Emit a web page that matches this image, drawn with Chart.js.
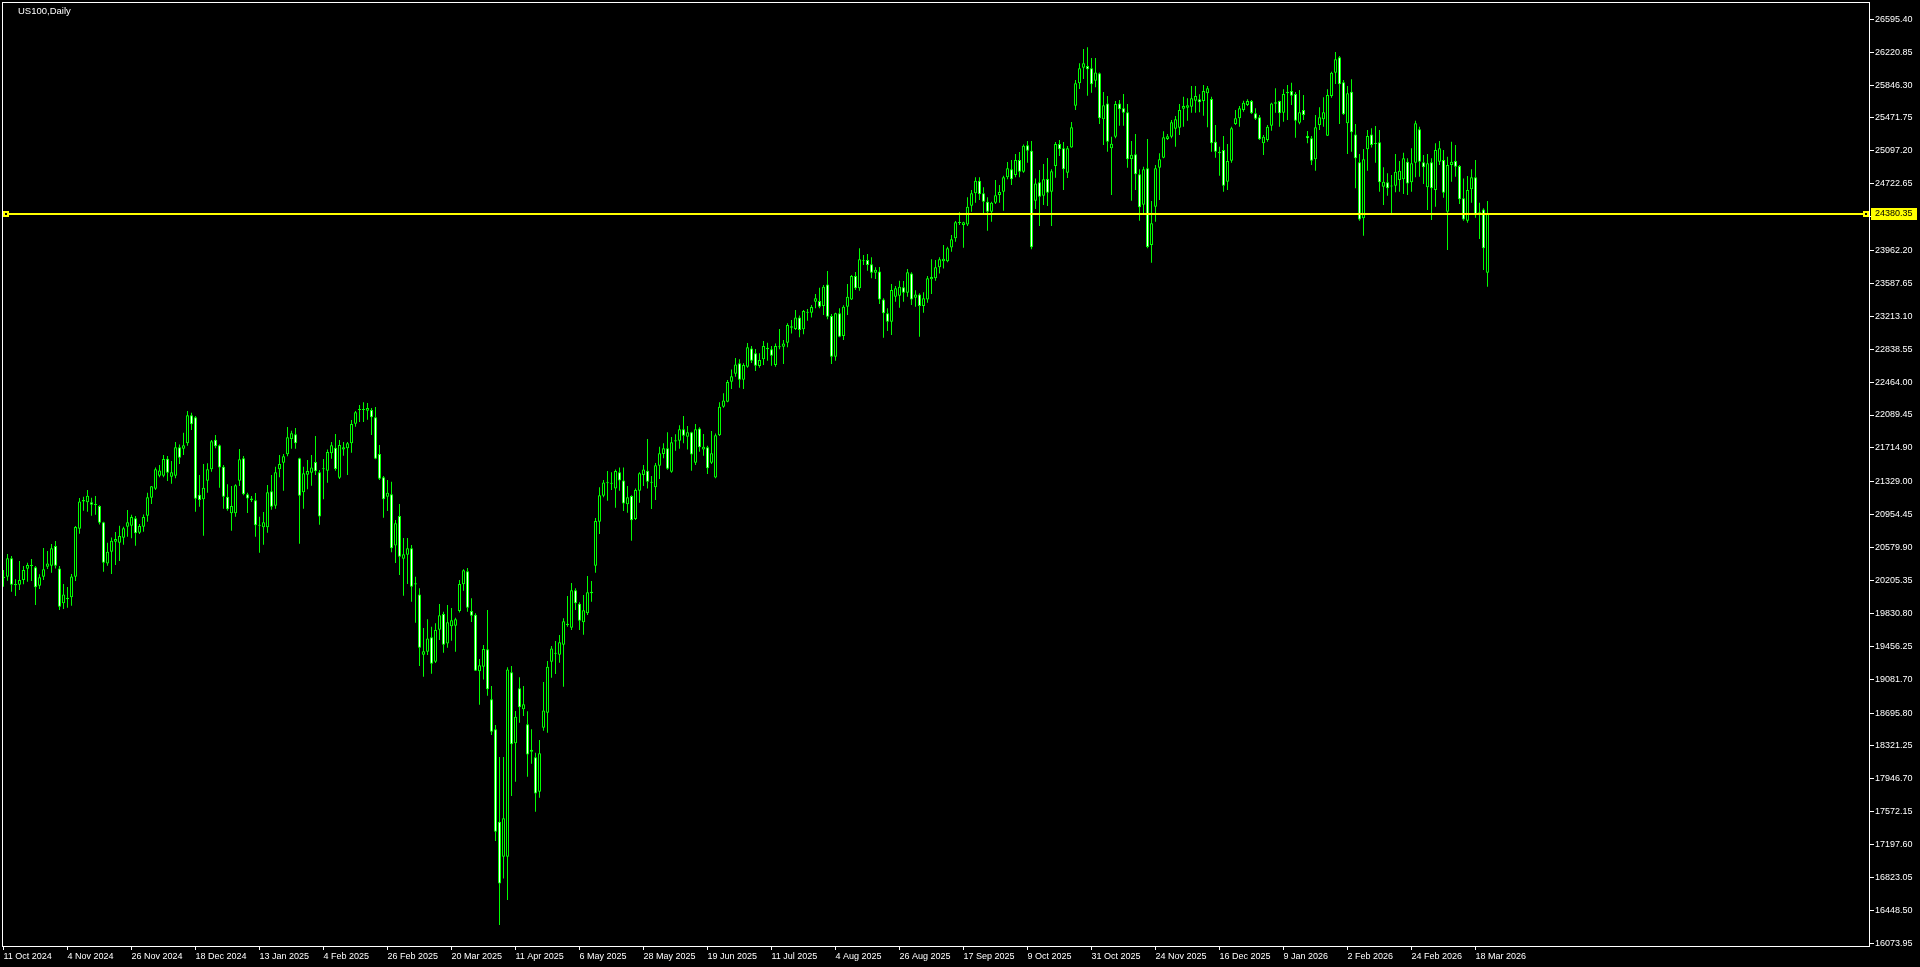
<!DOCTYPE html>
<html>
<head>
<meta charset="utf-8">
<script src="https://cdn.jsdelivr.net/npm/chart.js@4.4.1/dist/chart.umd.min.js"></script>
<style>
  html, body { margin: 0; padding: 0; background: #000; overflow: hidden; }
  #wrap { width: 1920px; height: 967px; }
</style>
</head>
<body>
<div id="wrap"><canvas id="chart" width="1920" height="967"></canvas></div>
<script>
const symbolTitle = 'US100,Daily';
const lastPrice = 24380.35;

// daily candles, oldest first (11 Oct 2024 .. 23 Mar 2026)
const opens = [
  20233,20248,20457,20150,20157,20210,20340,20381,20355,20146,20248,20362,20374,20598,20343,19945,20002,20013,20248,20795,
  21106,21095,21095,21072,21053,20867,20400,20533,20647,20636,20693,20818,20829,20913,20749,20818,20943,21148,21251,21399,
  21399,21592,21387,21399,21721,21706,21767,22086,22063,21182,21129,21342,21471,21809,21744,21501,21159,20970,20970,21342,
  21596,21186,21140,21118,20829,20810,20810,21220,21057,21471,21547,21642,21816,21869,21596,21209,21410,21433,21554,21437,
  21471,21456,21653,21717,21376,21698,21710,21767,21991,22146,22150,22139,22146,22063,21645,21380,21159,21186,20605,20939,
  20454,20499,20571,20160,20047,19360,19394,19558,19281,19645,19823,19489,19683,19691,19858,20161,20309,19858,19816,19171,
  19224,19421,18852,18510,17459,17060,17060,19159,18351,18977,18738,18567,18256,18191,17800,18529,18700,19281,19372,19360,
  19474,19698,19668,20093,19941,19729,19831,20059,20373,20875,21171,21311,21315,21254,21437,21345,21072,21167,20905,21228,
  21406,21455,21326,21266,21512,21645,21710,21444,21789,21797,21926,21843,21892,21546,21937,21698,21721,21546,21379,21858,
  22184,22241,22469,22560,22678,22492,22640,22848,22792,22647,22723,22837,22837,22659,22860,22867,22913,23084,23069,23201,
  23065,23255,23255,23380,23387,23330,23577,23217,22754,23247,22989,23323,23406,23672,23532,23851,23854,23805,23710,23725,
  23406,23247,23152,23437,23448,23543,23482,23702,23425,23463,23330,23406,23634,23646,23771,23839,23839,23998,24101,24280,
  24253,24260,24473,24614,24758,24614,24519,24405,24507,24595,24633,24796,24887,24822,24993,24860,25160,25099,24530,24739,
  24587,24777,24633,24925,25175,25126,24849,25137,25612,25866,26045,26064,26037,25897,25980,25456,25638,25126,25259,25638,
  25582,25536,25005,25058,24830,24485,24898,24025,24462,24906,25020,25232,25259,25350,25361,25578,25589,25600,25669,25684,
  25665,25752,25688,25202,25088,25107,24746,24986,25403,25468,25563,25619,25665,25525,25479,25183,25221,25384,25635,25665,
  25532,25752,25779,25745,25418,25563,25266,25240,25001,25392,25456,25270,25722,25988,26162,25878,25411,25771,25285,24967,
  24329,25115,25285,25183,25194,24689,24739,24693,24701,24765,24773,24974,24739,24963,25342,24967,24682,24967,24652,24974,
  24993,24405,24936,24982,24925,24557,24302,24659,24796,24386,24431,23710
];
const highs = [
  20324,20507,20484,20218,20427,20370,20408,20450,20370,20275,20575,20541,20620,20655,20370,20165,20131,20279,20825,21144,
  21159,21235,21148,21167,21061,20875,20636,20696,20757,20829,20818,21008,20955,20939,20848,20958,21205,21281,21493,21520,
  21634,21623,21566,21782,21755,21888,22135,22116,22078,21406,21531,21539,21805,21862,21755,21520,21300,21281,21300,21702,
  21623,21205,21167,21201,20932,20985,21292,21406,21501,21634,21645,21953,21911,21941,21604,21501,21577,21634,21850,21463,
  21588,21698,21782,21873,21805,21782,21782,22033,22135,22203,22234,22226,22169,22181,21748,21395,21349,21330,20894,21076,
  20689,20689,20609,20249,20116,19664,19763,19679,19717,19937,19850,19926,19892,19782,20211,20332,20347,20002,19831,19311,
  19470,19869,19003,18559,18195,18195,19216,19231,18719,19102,19003,18715,18510,18244,18389,19049,19288,19459,19516,19584,
  19774,20028,20176,20116,19956,20040,20256,20199,20916,21266,21349,21452,21437,21470,21493,21493,21281,21175,21254,21437,
  21520,21816,21395,21543,21729,21767,21892,21839,21869,21972,22078,21964,21900,21987,21949,21873,21740,21907,21880,22234,
  22336,22488,22609,22738,22723,22678,22909,22875,22841,22792,22932,22913,22875,22905,23069,22943,23133,23171,23285,23224,
  23285,23296,23342,23467,23539,23570,23729,23239,23255,23304,23338,23581,23684,23718,23987,23911,23923,23885,23771,23775,
  23418,23304,23581,23558,23619,23615,23752,23714,23509,23475,23486,23672,23862,23854,23885,24025,24006,24139,24298,24397,
  24291,24568,24652,24796,24796,24682,24568,24519,24765,24708,24815,24970,24993,25061,25084,25171,25209,25209,24784,24879,
  24948,25016,24887,25198,25221,25198,25152,25426,25904,26094,26257,26276,26155,26155,25991,25768,25722,25259,25665,25676,
  25745,25631,25209,25289,24887,24917,25232,24526,24936,25069,25320,25289,25449,25494,25631,25714,25695,25836,25836,25741,
  25847,25836,25714,25392,25145,25266,25175,25373,25563,25608,25669,25684,25676,25582,25506,25278,25392,25646,25809,25669,
  25798,25847,25874,25768,25790,25733,25323,25266,25506,25593,25707,25798,25999,26223,26178,25904,25836,25912,25403,25061,
  25118,25335,25354,25380,25335,24910,24841,24822,25061,24982,25077,25012,25126,25441,25373,25050,25061,25012,25183,25209,
  25107,25031,25202,25164,24936,24784,24811,24887,24993,24507,24443,24526
];
const lows = [
  20135,20203,20078,20028,20097,20161,20191,20199,19926,20108,20210,20336,20294,20343,19869,19880,19895,19918,20199,20738,
  21000,20989,20943,20955,20844,20305,20374,20279,20381,20427,20613,20704,20685,20601,20734,20761,20875,21076,21235,21380,
  21380,21338,21307,21368,21531,21634,21740,21919,20989,21046,20715,21205,21444,21710,21262,21023,21000,20772,20932,21281,
  21175,20973,21099,20704,20522,20613,20749,21011,21023,21380,21228,21619,21706,21706,20624,21023,21243,21285,21406,20841,
  21129,21319,21592,21456,21361,21626,21406,21660,21957,22010,22010,22036,21862,21585,21349,20920,20996,20526,20404,20267,
  20032,20165,19964,19725,19231,19110,19357,19144,19265,19527,19383,19440,19520,19394,19842,20089,19850,19732,19174,18791,
  19079,18893,18446,17238,16282,16813,16567,17751,17914,18586,18662,17971,18119,17572,17732,18495,18472,19098,19140,19269,
  18996,19679,19641,19869,19641,19588,19812,19964,20294,20734,21152,21114,21235,21034,21228,20996,20977,20658,20894,21091,
  21281,21254,21019,21121,21360,21596,21467,21433,21683,21706,21767,21698,21455,21520,21672,21626,21417,21531,21368,21850,
  22173,22234,22385,22526,22401,22385,22628,22681,22590,22628,22659,22708,22651,22640,22837,22670,22860,23019,23057,22974,
  23008,23163,23201,23304,23304,23228,23179,22670,22708,22974,22943,23228,23399,23513,23505,23797,23733,23646,23638,23353,
  22970,23046,23000,23380,23311,23380,23437,23342,23323,22981,23255,23369,23467,23619,23702,23759,23828,23949,24063,24253,
  23995,24242,24405,24507,24538,24386,24188,24291,24492,24507,24416,24773,24708,24796,24796,24849,24963,23976,24435,24241,
  24481,24469,24241,24792,25039,24652,24788,25133,25563,25802,25916,25726,25760,25821,25403,25164,25088,24595,25240,25384,
  25384,24906,24530,24652,24302,24367,23987,23824,24291,24538,25012,25221,25240,25145,25278,25373,25441,25532,25532,25536,
  25498,25365,25088,25020,24815,24633,24652,24963,25392,25373,25544,25608,25517,25449,25221,25050,25202,25327,25532,25373,
  25430,25449,25619,25247,25399,25449,25183,24936,24872,25335,25373,25266,25703,25859,25403,25506,25061,25088,24671,24302,
  24131,24872,25137,24963,24633,24481,24587,24367,24625,24633,24606,24595,24633,24796,24803,24720,24424,24310,24462,24936,
  24564,23968,24746,24803,24492,24302,24279,24507,24336,24093,23740,23551
];
const closes = [
  20248,20457,20157,20165,20210,20324,20381,20370,20127,20241,20332,20400,20571,20374,19907,20047,19994,20252,20814,21106,
  21121,21171,21068,21065,20863,20408,20533,20658,20677,20712,20799,20867,20928,20742,20825,20928,21152,21277,21471,21459,
  21588,21433,21437,21721,21604,21744,22086,21983,21137,21121,21262,21471,21790,21733,21493,21159,21015,21053,21289,21585,
  21186,21140,21118,20833,20837,20867,21209,21046,21437,21531,21619,21835,21881,21767,21171,21425,21452,21493,21448,20935,
  21482,21668,21744,21474,21748,21721,21767,21987,22120,22150,22146,22169,22063,21592,21364,21129,21205,20571,20856,20476,
  20503,20571,20135,20175,19440,19398,19546,19258,19641,19808,19474,19729,19751,19763,20165,20321,19896,19804,19178,19239,
  19425,18966,18484,17345,16756,17497,19193,18339,18654,18761,18795,18225,18278,17781,18237,18726,19224,19432,19375,19501,
  19740,19713,20093,19945,19747,19865,20070,20078,20882,21175,21322,21315,21307,21452,21345,21083,21152,20890,21235,21425,
  21470,21330,21319,21516,21653,21710,21478,21778,21801,21926,21854,21892,21641,21926,21721,21729,21482,21653,21858,22184,
  22256,22465,22530,22666,22492,22659,22860,22708,22651,22716,22875,22856,22765,22875,22871,22905,23114,23099,23201,23057,
  23274,23259,23319,23418,23323,23551,23209,22754,23247,22981,23323,23437,23672,23532,23862,23839,23797,23710,23744,23406,
  23247,23152,23513,23532,23551,23482,23714,23406,23463,23330,23418,23646,23661,23771,23862,23870,23987,24090,24283,24276,
  24283,24462,24614,24758,24602,24519,24405,24507,24591,24629,24796,24898,24773,24993,24860,25156,25099,23999,24727,24575,
  24773,24621,24864,25175,25115,24887,25126,25365,25866,26037,26094,26026,25855,25991,25468,25616,25202,25179,25631,25570,
  25532,25001,25054,24830,24454,24887,24003,24272,24898,25001,25251,25263,25422,25456,25563,25608,25616,25695,25722,25650,
  25779,25809,25183,25088,25069,24701,24982,25354,25468,25582,25646,25665,25525,25464,25229,25259,25373,25638,25650,25525,
  25745,25768,25726,25441,25536,25506,25240,24986,25365,25479,25536,25733,25988,26140,25855,25513,25752,25308,25012,24317,
  25001,25266,25164,25175,24739,24746,24671,24692,24860,24872,25012,24727,24955,25411,24974,24910,24955,24671,25107,25126,
  24621,24936,24974,24917,24545,24317,24652,24796,24378,24397,23987,24380.35
];

// time axis labels, one every 16 bars
const dateIdx = [0,16,32,48,64,80,96,112,128,144,160,176,192,208,224,240,256,272,288,304,320,336,352,368];
const dateLabels = [
  '11 Oct 2024','4 Nov 2024','26 Nov 2024','18 Dec 2024','13 Jan 2025','4 Feb 2025','26 Feb 2025','20 Mar 2025',
  '11 Apr 2025','6 May 2025','28 May 2025','19 Jun 2025','11 Jul 2025','4 Aug 2025','26 Aug 2025','17 Sep 2025',
  '9 Oct 2025','31 Oct 2025','24 Nov 2025','16 Dec 2025','9 Jan 2026','2 Feb 2026','24 Feb 2026','18 Mar 2026'
];

// price scale labels
const priceTicks = [
  16073.95,16448.50,16823.05,17197.60,17572.15,17946.70,18321.25,18695.80,19081.70,19456.25,
  19830.80,20205.35,20579.90,20954.45,21329.00,21714.90,22089.45,22464.00,22838.55,23213.10,
  23587.65,23962.20,24348.10,24722.65,25097.20,25471.75,25846.30,26220.85,26595.40
];

const LIME = '#00ff00';
const FONT = 'Liberation Sans, Arial, sans-serif';

const idx = opens.map((_, i) => i);
const bodies = idx.map(i => ({ x: i, y: [opens[i], closes[i]] }));
const wicks = idx.map(i => ({ x: i, y: [lows[i], highs[i]] }));
const bodyFill = idx.map(i => closes[i] >= opens[i] ? '#000000' : '#ffffff');

const mt4Frame = {
    id: 'mt4Frame',
    beforeDraw(chart) {
        const ctx = chart.ctx;
        ctx.save();
        ctx.fillStyle = '#000';
        ctx.fillRect(0, 0, chart.width, chart.height);
        ctx.restore();
    },
    afterDraw(chart) {
        const ctx = chart.ctx;
        const a = chart.chartArea;
        const y = Math.round(chart.scales.y.getPixelForValue(lastPrice));
        ctx.save();

        // frame
        ctx.strokeStyle = '#ffffff';
        ctx.lineWidth = 1;
        ctx.strokeRect(a.left + 0.5, a.top + 0.5, a.right - a.left - 1, a.bottom - a.top);

        // bid line
        ctx.fillStyle = '#ffff00';
        ctx.fillRect(a.left + 1, y - 1, a.right - a.left - 2, 2);
        [a.left + 1, a.right - 7].forEach(x => {
            ctx.fillStyle = '#ffff00';
            ctx.fillRect(x, y - 3, 6, 6);
            ctx.fillStyle = '#000';
            ctx.fillRect(x + 2, y - 1, 2, 2);
        });

        // price label on the scale
        ctx.fillStyle = '#ffff00';
        ctx.fillRect(a.right + 1, y - 6, 46, 12);
        ctx.fillStyle = '#000';
        ctx.font = '9px ' + FONT;
        ctx.textBaseline = 'middle';
        ctx.textAlign = 'left';
        ctx.fillText(lastPrice.toFixed(2), a.right + 5, y);

        // symbol title
        ctx.fillStyle = '#ffffff';
        ctx.font = '9.5px ' + FONT;
        ctx.textBaseline = 'alphabetic';
        ctx.fillText(symbolTitle, 18, 14);
        ctx.restore();
    }
};

new Chart(document.getElementById('chart'), {
    type: 'bar',
    data: {
        datasets: [
            {
                label: 'body',
                data: bodies,
                order: 0,
                grouped: false,
                barThickness: 3,
                minBarLength: 1,
                borderWidth: 1,
                borderSkipped: false,
                borderColor: LIME,
                backgroundColor: bodyFill,
                inflateAmount: 0
            },
            {
                label: 'wick',
                data: wicks,
                order: 1,
                grouped: false,
                barThickness: 1,
                borderWidth: 0,
                backgroundColor: LIME,
                inflateAmount: 0
            }
        ]
    },
    options: {
        responsive: false,
        animation: false,
        devicePixelRatio: 1,
        events: [],
        layout: { padding: { left: 2, top: 2, right: 0, bottom: 0 } },
        plugins: { legend: { display: false }, tooltip: { enabled: false } },
        scales: {
            x: {
                type: 'linear',
                position: 'bottom',
                min: -0.375,
                max: 466.625,
                offset: false,
                border: { display: false },
                grid: { drawOnChartArea: false, color: '#ffffff', tickLength: 4, offset: false },
                afterBuildTicks: s => { s.ticks = dateIdx.map(v => ({ value: v })); },
                afterFit: s => { s.height = 21; s.paddingLeft = 0; s.paddingRight = 0; },
                ticks: {
                    color: '#ffffff',
                    font: { family: FONT, size: 9 },
                    align: 'start',
                    maxRotation: 0,
                    autoSkip: false,
                    padding: 1,
                    callback: (v, i) => dateLabels[i]
                }
            },
            y: {
                type: 'linear',
                position: 'right',
                min: 16043.1,
                max: 26792.4,
                border: { display: false },
                grid: { drawOnChartArea: false, color: '#ffffff', tickLength: 4 },
                afterBuildTicks: s => { s.ticks = priceTicks.map(v => ({ value: v })); },
                afterFit: s => { s.width = 50; s.paddingTop = 0; s.paddingBottom = 0; },
                ticks: {
                    color: '#ffffff',
                    font: { family: FONT, size: 9 },
                    autoSkip: false,
                    padding: 1,
                    callback: (v, i) => priceTicks[i].toFixed(2)
                }
            }
        }
    },
    plugins: [mt4Frame]
});
</script>
</body>
</html>
